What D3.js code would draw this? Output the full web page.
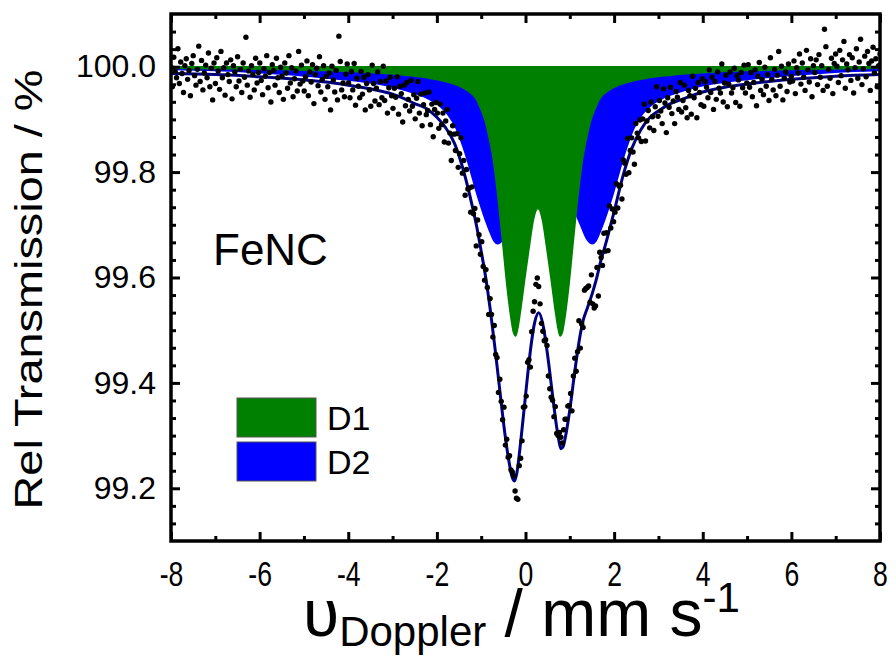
<!DOCTYPE html>
<html>
<head>
<meta charset="utf-8">
<script src="https://cdn.jsdelivr.net/npm/d3@7"></script>
<style>
  html, body { margin: 0; padding: 0; background: #fff; }
  svg { display: block; }
</style>
</head>
<body>
<div id="chart"></div>
<script>
// axis tick labels
var xTicks = [-8, -6, -4, -2, 0, 2, 4, 6, 8];
var yTicks = [99.2, 99.4, 99.6, 99.8, 100.0];
var seriesNames = ["D1", "D2"];
var sampleName = "FeNC";

// measured spectrum, 512 channels spread evenly over -8 .. +8 mm/s (one row = 32 channels)
var transmission = [
  99.999, 99.962, 100.018, 99.991, 99.979, 100.034, 99.968, 100.009, 99.987, 99.951, 100.002, 100.015, 99.976, 99.993, 99.945, 100.006,
  100.021, 99.983, 99.965, 99.995, 100.039, 99.972, 100.012, 99.956, 99.988, 100.003, 99.979, 100.026, 99.962, 99.997, 99.937, 100.007,
  99.968, 100.017, 99.992, 99.957, 100.029, 99.979, 99.998, 99.946, 100.007, 99.985, 99.972, 100.013, 99.939, 100.002, 99.990, 99.962,
  100.019, 99.973, 99.995, 99.951, 100.007, 99.980, 100.056, 99.965, 99.992, 99.942, 100.002, 99.985, 99.956, 100.016, 99.969, 99.989,
  100.007, 99.974, 99.947, 99.996, 99.982, 100.021, 99.960, 99.989, 99.933, 100.004, 99.993, 99.965, 100.016, 99.979, 99.951, 99.999,
  99.982, 99.938, 100.007, 99.988, 99.959, 100.021, 99.969, 99.998, 99.943, 99.977, 99.992, 99.954, 100.029, 99.967, 100.003, 99.973,
  99.954, 99.981, 100.011, 99.945, 99.990, 99.971, 100.004, 99.930, 99.985, 99.997, 99.964, 100.019, 99.952, 99.976, 100.002, 99.938,
  99.982, 99.962, 99.988, 99.918, 100.001, 99.975, 99.952, 99.993, 99.937, 100.058, 100.010, 99.956, 99.969, 99.943, 99.986, 100.005,
  99.969, 99.941, 99.991, 99.956, 100.006, 99.927, 99.978, 99.963, 99.941, 99.991, 99.948, 99.980, 99.918, 99.968, 99.985, 99.956,
  99.925, 100.003, 99.968, 99.935, 99.959, 99.990, 99.928, 99.972, 99.941, 100.001, 99.936, 99.973, 99.912, 99.960, 99.980, 99.945,
  99.921, 99.959, 99.942, 99.981, 99.910, 99.963, 99.949, 99.895, 99.965, 99.926, 99.970, 99.938, 99.916, 99.974, 99.925, 99.947,
  99.901, 99.940, 99.972, 99.912, 99.948, 99.888, 99.928, 99.950, 99.909, 99.917, 99.952, 99.890, 99.929, 99.867, 99.919, 99.932,
  99.912, 99.883, 99.929, 99.890, 99.912, 99.857, 99.897, 99.919, 99.855, 99.874, 99.822, 99.888, 99.872, 99.841, 99.873, 99.809,
  99.835, 99.865, 99.798, 99.822, 99.756, 99.805, 99.768, 99.770, 99.724, 99.772, 99.721, 99.731, 99.660, 99.709, 99.681, 99.644,
  99.668, 99.621, 99.595, 99.615, 99.581, 99.530, 99.560, 99.530, 99.487, 99.509, 99.454, 99.448, 99.382, 99.407, 99.365, 99.330,
  99.354, 99.282, 99.293, 99.259, 99.262, 99.235, 99.231, 99.224, 99.195, 99.181, 99.179, 99.243, 99.257, 99.290, 99.354, 99.355,
  99.375, 99.439, 99.444, 99.430, 99.497, 99.536, 99.554, 99.587, 99.599, 99.583, 99.550, 99.513, 99.498, 99.480, 99.482, 99.471,
  99.413, 99.389, 99.373, 99.367, 99.336, 99.355, 99.304, 99.300, 99.306, 99.297, 99.286, 99.311, 99.331, 99.331, 99.356, 99.357,
  99.380, 99.347, 99.413, 99.447, 99.422, 99.459, 99.518, 99.466, 99.512, 99.505, 99.576, 99.579, 99.581, 99.584, 99.553, 99.605,
  99.550, 99.542, 99.546, 99.619, 99.565, 99.648, 99.638, 99.623, 99.684, 99.650, 99.685, 99.651, 99.736, 99.694, 99.730, 99.706,
  99.724, 99.778, 99.732, 99.773, 99.775, 99.749, 99.823, 99.817, 99.796, 99.864, 99.799, 99.841, 99.865, 99.838, 99.815, 99.892,
  99.874, 99.865, 99.899, 99.858, 99.901, 99.929, 99.859, 99.897, 99.917, 99.884, 99.933, 99.905, 99.879, 99.924, 99.962, 99.906,
  99.936, 99.916, 99.892, 99.958, 99.931, 99.875, 99.941, 99.923, 99.961, 99.911, 99.935, 99.892, 99.953, 99.942, 99.919, 99.970,
  99.914, 99.936, 99.965, 99.922, 99.903, 99.955, 99.945, 99.910, 99.982, 99.941, 99.959, 99.903, 99.970, 99.951, 99.928, 99.977,
  99.925, 99.972, 99.961, 99.941, 99.994, 99.951, 99.980, 99.919, 99.972, 99.938, 99.990, 99.959, 99.950, 100.005, 99.933, 99.969,
  99.984, 99.924, 99.967, 99.990, 99.950, 99.960, 99.997, 99.932, 99.983, 99.975, 99.925, 99.989, 99.960, 100.003, 99.950, 99.969,
  100.004, 99.961, 99.989, 99.943, 99.970, 99.994, 99.926, 99.982, 100.008, 99.955, 99.976, 99.947, 99.999, 99.963, 99.985, 99.936,
  100.017, 99.976, 99.956, 99.995, 99.945, 99.984, 100.029, 99.963, 100.001, 99.937, 99.978, 99.990, 99.953, 100.005, 99.971, 99.982,
  99.973, 100.011, 99.949, 99.998, 99.988, 100.024, 99.967, 100.007, 99.980, 99.955, 100.031, 99.994, 99.971, 100.015, 99.943, 100.002,
  99.989, 100.013, 99.966, 100.023, 99.980, 100.002, 99.955, 100.071, 100.038, 99.963, 99.995, 99.978, 100.016, 99.949, 100.006, 100.024,
  100.001, 99.970, 100.031, 99.983, 100.013, 100.048, 99.959, 100.005, 99.994, 100.023, 99.974, 100.017, 99.950, 99.998, 100.034, 99.978,
  100.009, 100.052, 99.966, 99.996, 100.020, 99.981, 100.029, 100.006, 99.955, 100.011, 100.037, 99.988, 100.015, 99.962, 100.002, 100.024
];

// D1 doublet (green)
var d1Velocity = [-8, -6.72, -5.72, -4.72, -3.72, -2.72, -2.22, -1.72, -1.52, -1.32, -1.12, -1.02, -0.92, -0.82, -0.72, -0.62, -0.52, -0.42,
  -0.32, -0.27, -0.22, -0.17, -0.12, -0.02, 0.08, 0.18, 0.28, 0.38, 0.48, 0.58, 0.68, 0.73, 0.78, 0.83, 0.88, 0.98, 1.08, 1.18,
  1.28, 1.38, 1.48, 1.58, 1.68, 1.88, 2.08, 2.28, 2.78, 3.28, 4.28, 5.28, 6.28, 7.28, 8];
var d1Transmission = [99.997, 99.996, 99.995, 99.993, 99.990, 99.984, 99.979, 99.970, 99.964, 99.955, 99.940, 99.922, 99.900, 99.865,
  99.820, 99.752, 99.670, 99.585, 99.518, 99.495, 99.489, 99.505, 99.532, 99.595, 99.655, 99.710, 99.731, 99.710, 99.655, 99.595,
  99.532, 99.505, 99.489, 99.495, 99.518, 99.585, 99.670, 99.752, 99.820, 99.865, 99.900, 99.922, 99.940, 99.955, 99.964, 99.970,
  99.979, 99.984, 99.990, 99.993, 99.995, 99.996, 99.997];

// D2 doublet (blue)
var d2Velocity = [-8, -6.56, -5.56, -4.56, -3.56, -3.06, -2.56, -2.26, -1.96, -1.76, -1.56, -1.41, -1.31, -1.21, -1.11, -1.01, -0.91,
  -0.81, -0.71, -0.63, -0.51, -0.36, -0.16, 0.14, 0.44, 0.74, 1.04, 1.24, 1.39, 1.51, 1.59, 1.69, 1.79, 1.89, 1.99, 2.09, 2.19,
  2.29, 2.44, 2.64, 2.84, 3.14, 3.44, 3.94, 4.44, 5.44, 6.44, 7.44, 8];
var d2Transmission = [99.990, 99.987, 99.984, 99.979, 99.970, 99.963, 99.951, 99.942, 99.927, 99.910, 99.882, 99.848, 99.822, 99.792,
  99.762, 99.735, 99.710, 99.688, 99.669, 99.664, 99.672, 99.700, 99.740, 99.795, 99.810, 99.795, 99.740, 99.700, 99.672, 99.664,
  99.669, 99.688, 99.710, 99.735, 99.762, 99.792, 99.822, 99.848, 99.882, 99.910, 99.927, 99.942, 99.951, 99.963, 99.970, 99.979,
  99.984, 99.987, 99.988];

// total fit (navy)
var fitVelocity = [-8, -7, -6, -5, -4.5, -4, -3.5, -3, -2.75, -2.5, -2.25, -2, -1.8, -1.6, -1.4, -1.2, -1.1, -1.0, -0.9, -0.8, -0.7,
  -0.6, -0.5, -0.4, -0.3, -0.25, -0.2, -0.1, 0, 0.1, 0.2, 0.3, 0.4, 0.5, 0.6, 0.7, 0.75, 0.8, 0.85, 0.9, 1.0, 1.1, 1.2, 1.3, 1.4,
  1.5, 1.6, 1.7, 1.8, 2.0, 2.2, 2.4, 2.6, 2.8, 3.0, 3.25, 3.5, 4.0, 4.5, 5, 6, 7, 8];
var fitTransmission = [99.987, 99.985, 99.981, 99.975, 99.971, 99.965, 99.958, 99.948, 99.940, 99.930, 99.921, 99.904, 99.884, 99.854,
  99.803, 99.735, 99.696, 99.650, 99.601, 99.542, 99.474, 99.401, 99.327, 99.265, 99.221, 99.214, 99.227, 99.295, 99.376, 99.454,
  99.512, 99.533, 99.508, 99.452, 99.384, 99.318, 99.292, 99.275, 99.279, 99.297, 99.349, 99.414, 99.474, 99.518, 99.543, 99.568,
  99.597, 99.632, 99.661, 99.725, 99.793, 99.845, 99.880, 99.903, 99.916, 99.929, 99.937, 99.952, 99.961, 99.967, 99.976, 99.982,
  99.985];

var width = 896
 ,  height = 658
 ,  plot = {left: 171, right: 880, top: 14, bottom: 541}
 ,  font = "'Liberation Sans', Arial, Helvetica, sans-serif"
 ,  colors = {D1: "#008000", D2: "#0000ff", fit: "#000080"};

var x = d3.scaleLinear().domain([-8, 8]).range([plot.left, plot.right]);
var y = d3.scaleLinear().domain([99.1, 100.1]).range([plot.bottom, plot.top]);
// channel index -> velocity
var channel = d3.scaleLinear().domain([0, transmission.length - 1]).range(x.domain());

var zip = function(vs, ts) {
  return vs.map(function(v, i) { return [v, ts[i]]; });
};

var svg = d3.select("#chart")
  .append("svg")
    .attr("width", width)
    .attr("height", height)
    .attr("font-family", font);

svg.append("defs").append("clipPath")
    .attr("id", "plot-clip")
  .append("rect")
    .attr("x", plot.left)
    .attr("y", plot.top)
    .attr("width", plot.right - plot.left)
    .attr("height", plot.bottom - plot.top);

var body = svg.append("g").attr("clip-path", "url(#plot-clip)");

var area = d3.area()
  .x(function(d) { return x(d[0]); })
  .y0(y(100))
  .y1(function(d) { return y(d[1]); })
  .curve(d3.curveMonotoneX);

var line = d3.line()
  .x(function(d) { return x(d[0]); })
  .y(function(d) { return y(d[1]); })
  .curve(d3.curveMonotoneX);

// subspectra, D2 below D1
body.append("path")
  .datum(zip(d2Velocity, d2Transmission))
  .attr("d", area)
  .attr("fill", colors.D2)
  .attr("stroke", colors.D2)
  .attr("stroke-width", 1.5);

body.append("path")
  .datum(zip(d1Velocity, d1Transmission))
  .attr("d", area)
  .attr("fill", colors.D1)
  .attr("stroke", colors.D1)
  .attr("stroke-width", 1.5);

// fit envelope with a thin white halo
var fit = zip(fitVelocity, fitTransmission);
body.append("path")
  .datum(fit)
  .attr("d", line)
  .attr("fill", "none")
  .attr("stroke", "#fff")
  .attr("stroke-width", 6.5);

body.append("path")
  .datum(fit)
  .attr("d", line)
  .attr("fill", "none")
  .attr("stroke", colors.fit)
  .attr("stroke-width", 3);

body.selectAll(".pt").data(transmission)
  .enter().append("circle")
    .attr("class", "pt")
    .attr("cx", function(d, i) { return x(channel(i)); })
    .attr("cy", function(d) { return y(d); })
    .attr("r", 2.7)
    .attr("fill", "#000");

// axes: ticks point inwards on all four sides
var xMinor = d3.range(-7, 8, 2);
var yMinor = d3.range(1, 30)
  .map(function(k) { return 99.1 + k / 30; })
  .filter(function(v) {
    return !yTicks.some(function(t) { return Math.abs(t - v) < 1e-6; });
  });

var tidy = function(g) {
  g.select(".domain").remove();
  g.selectAll(".tick line").attr("stroke", "#000").attr("stroke-width", 3);
  g.selectAll(".tick text").filter(function() { return this.textContent === ""; }).remove();
  g.attr("font-family", font);
};

var addAxis = function(axis, tx, ty) {
  return svg.append("g")
    .attr("transform", "translate(" + tx + "," + ty + ")")
    .call(axis)
    .call(tidy);
};

var bottomAxis = addAxis(d3.axisBottom(x).tickValues(xTicks).tickSize(-9).tickPadding(20)
  .tickFormat(function(d) { return String(d); }), 0, plot.bottom)
  .attr("font-size", 35);
// tick numbers on the velocity axis are set narrow in the original
bottomAxis.selectAll(".tick text").attr("transform", "scale(0.76,1)");
addAxis(d3.axisBottom(x).tickValues(xMinor).tickSize(-5).tickFormat(""), 0, plot.bottom);
addAxis(d3.axisTop(x).tickValues(xTicks).tickSize(-9).tickFormat(""), 0, plot.top);
addAxis(d3.axisTop(x).tickValues(xMinor).tickSize(-5).tickFormat(""), 0, plot.top);

addAxis(d3.axisLeft(y).tickValues(yTicks).tickSize(-9).tickPadding(15)
  .tickFormat(d3.format(".1f")), plot.left, 0)
  .attr("font-size", 32);
addAxis(d3.axisLeft(y).tickValues(yMinor).tickSize(-5).tickFormat(""), plot.left, 0);
addAxis(d3.axisRight(y).tickValues(yTicks).tickSize(-9).tickFormat(""), plot.right, 0);
addAxis(d3.axisRight(y).tickValues(yMinor).tickSize(-5).tickFormat(""), plot.right, 0);

svg.append("rect")
  .attr("x", plot.left)
  .attr("y", plot.top)
  .attr("width", plot.right - plot.left)
  .attr("height", plot.bottom - plot.top)
  .attr("fill", "none")
  .attr("stroke", "#000")
  .attr("stroke-width", 3.5);

// legend
var legend = svg.append("g").attr("transform", "translate(237,398)");
var item = legend.selectAll("g").data(seriesNames)
  .enter().append("g")
    .attr("transform", function(d, i) { return "translate(0," + i * 44 + ")"; });
item.append("rect")
  .attr("width", 79)
  .attr("height", 39)
  .attr("fill", function(d) { return colors[d]; })
  .attr("stroke", "#555")
  .attr("stroke-width", 1);
item.append("text")
  .attr("x", 90)
  .attr("y", 32)
  .attr("font-size", 34)
  .text(function(d) { return d; });

svg.append("text")
  .attr("x", 213)
  .attr("y", 265)
  .attr("font-size", 44)
  .text(sampleName);

// axis titles
svg.append("text")
  .attr("transform", "translate(42," + ((plot.top + plot.bottom) / 2 + 12) + ") rotate(-90)")
  .attr("text-anchor", "middle")
  .attr("font-size", 38)
  .attr("textLength", 440)
  .attr("lengthAdjust", "spacingAndGlyphs")
  .text("Rel Transmission / %");

var xTitle = svg.append("text")
  .attr("x", (plot.left + plot.right) / 2 - 4)
  .attr("y", 636)
  .attr("text-anchor", "middle")
  .attr("font-size", 66);
xTitle.append("tspan").text("\u03c5");
xTitle.append("tspan").attr("font-size", 42).attr("dy", 10).text("Doppler");
xTitle.append("tspan").attr("dy", -10).text(" / mm s");
xTitle.append("tspan").attr("font-size", 42).attr("dy", -24).text("-1");
</script>
</body>
</html>
